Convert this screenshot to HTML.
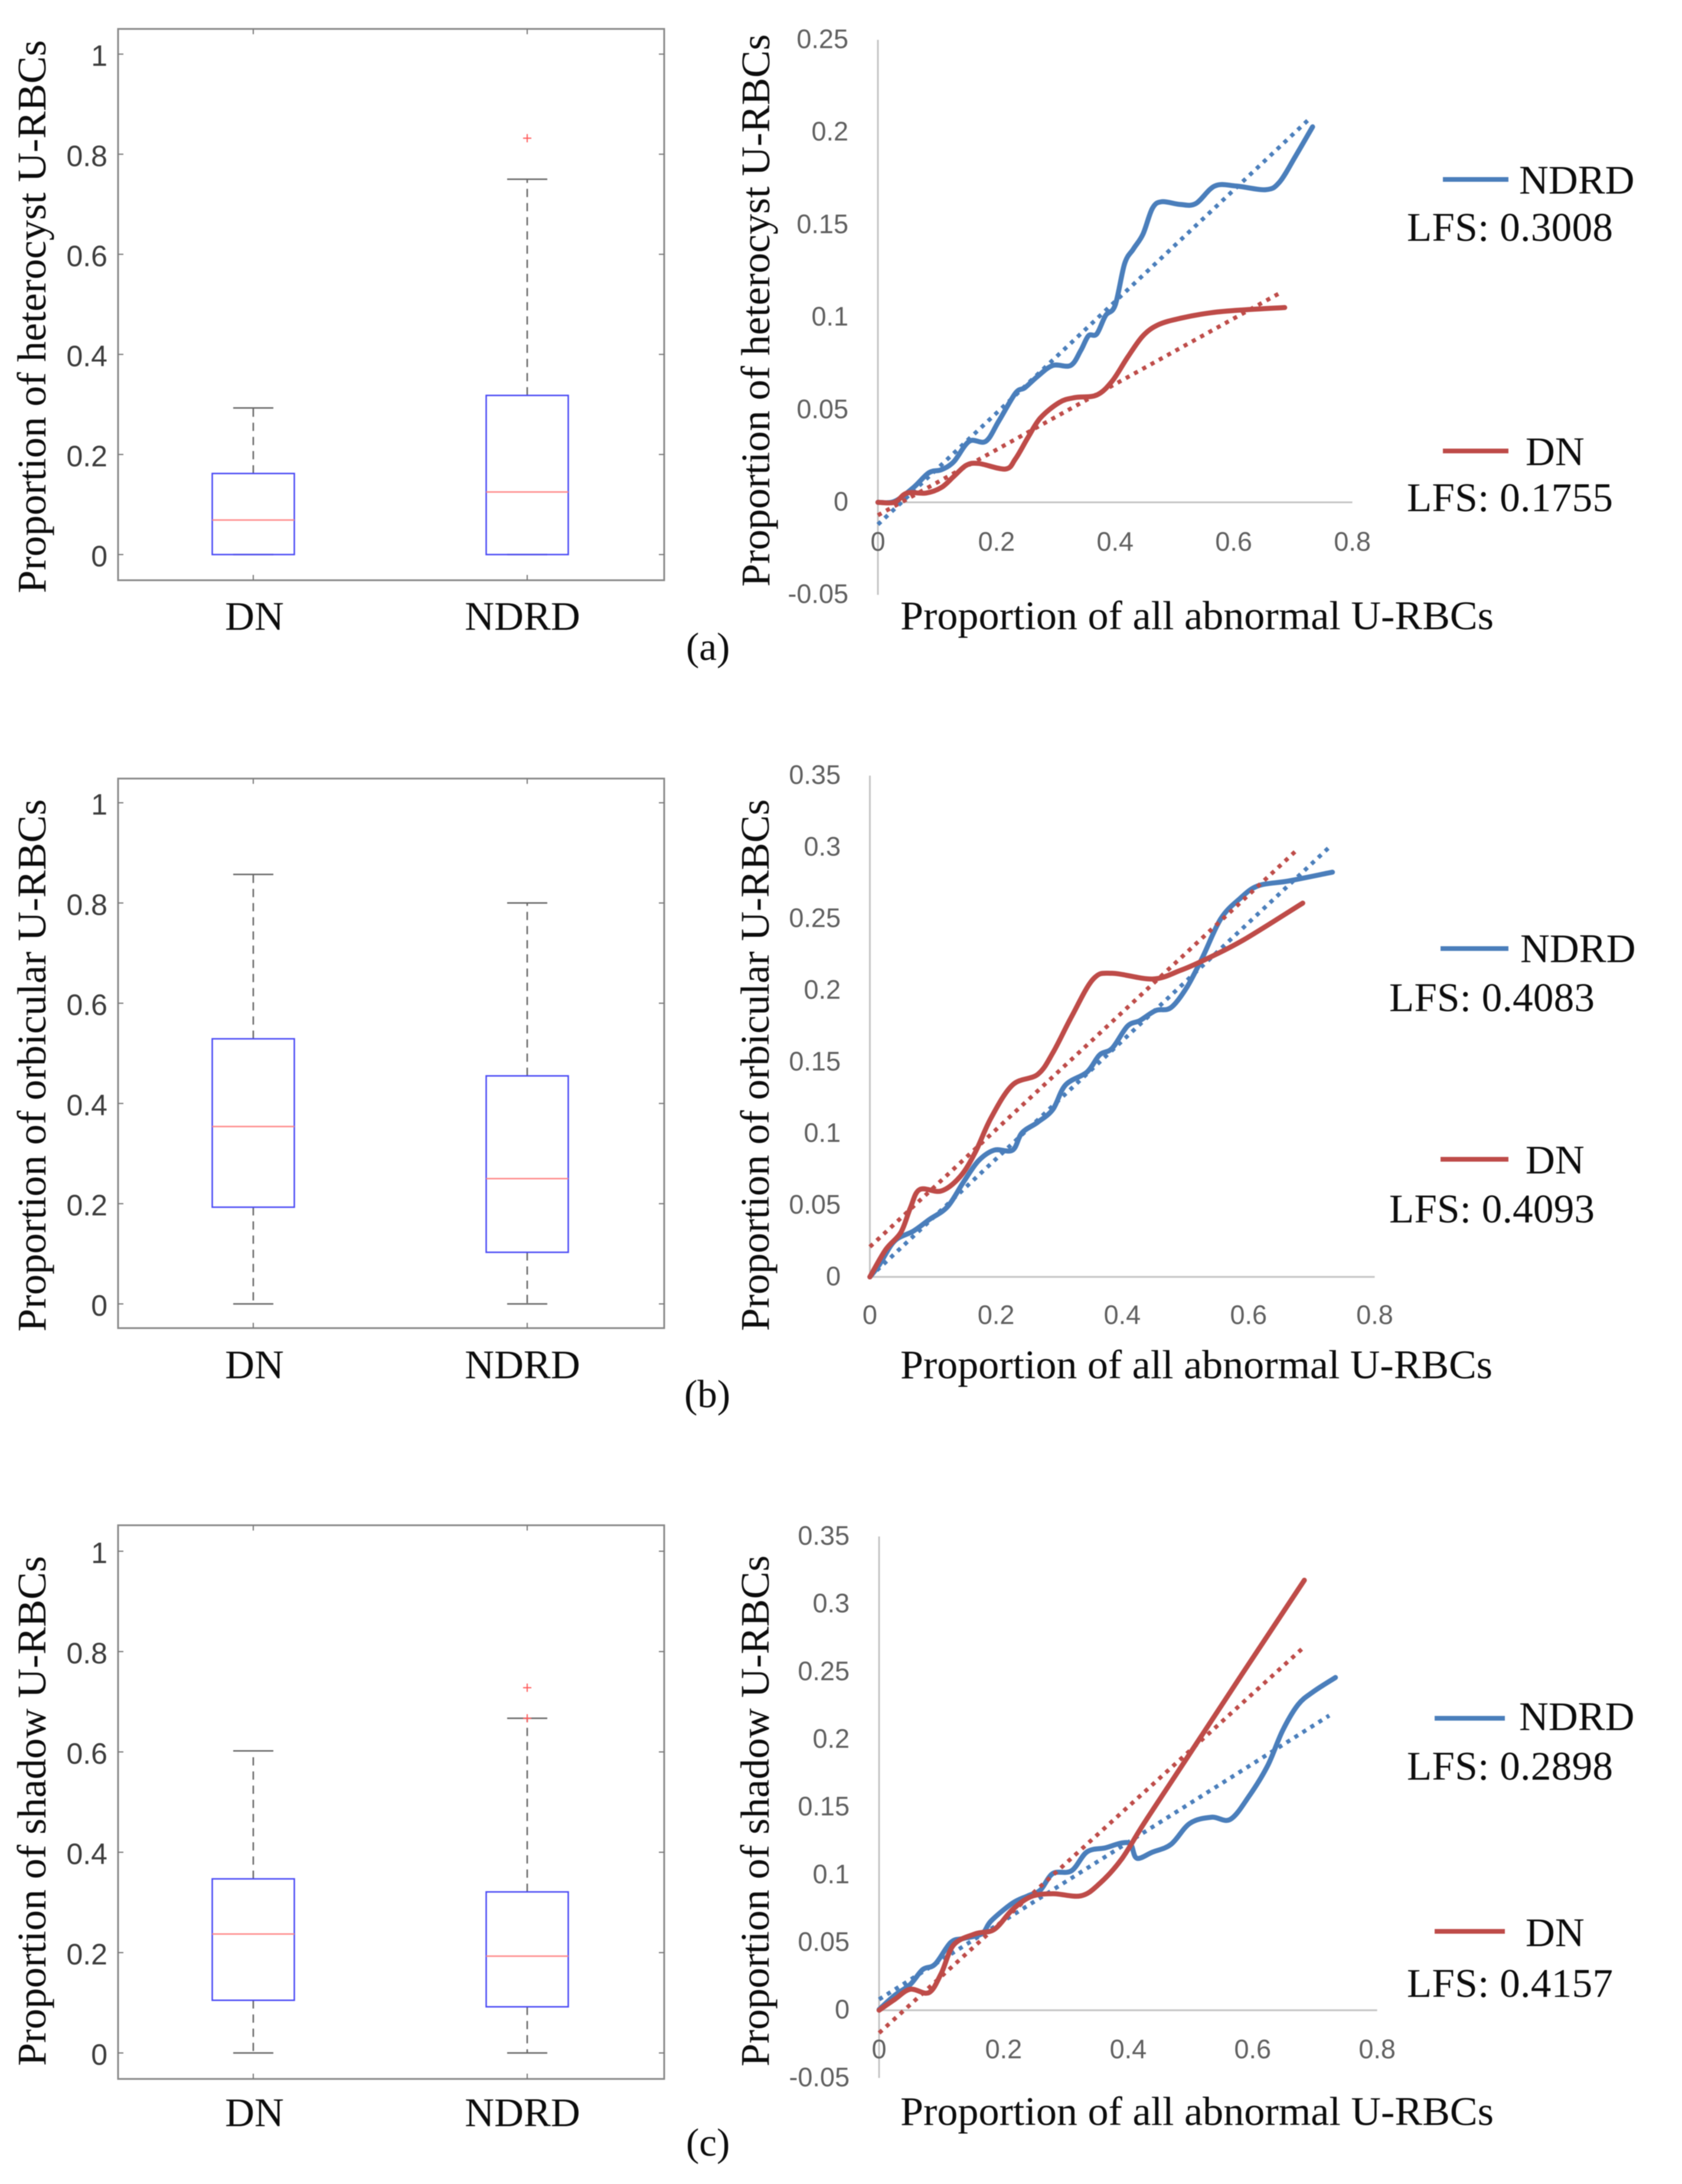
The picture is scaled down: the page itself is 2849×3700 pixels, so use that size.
<!DOCTYPE html>
<html lang="en">
<head>
<meta charset="utf-8">
<title>Proportions of U-RBC subtypes in DN and NDRD</title>
<style>
  html, body { margin: 0; padding: 0; background: #fff; }
  svg { display: block; filter: blur(0.9px); }
  .serif { font-family: "Liberation Serif", serif; font-size: 69px; fill: #0c0c0c; }
  .sans-box { font-family: "Liberation Sans", sans-serif; font-size: 50px; fill: #3c3c3c; }
  .sans-line { font-family: "Liberation Sans", sans-serif; font-size: 45px; fill: #5f5f5f; }
</style>
</head>
<body>
<svg id="figure" xmlns="http://www.w3.org/2000/svg" width="2849" height="3700" viewBox="0 0 2849 3700">
  <rect x="0" y="0" width="2849" height="3700" fill="#fff"/>

  <!-- Panel a text -->
  <text class="serif" transform="translate(77,1005) rotate(-90)" textLength="937" lengthAdjust="spacingAndGlyphs">Proportion of heterocyst U-RBCs</text>
  <text class="serif" x="431" y="1067" text-anchor="middle">DN</text>
  <text class="serif" x="885" y="1067" text-anchor="middle">NDRD</text>
  <text class="serif" x="1162" y="1118" style="font-size:67px">(a)</text>
  <text class="serif" transform="translate(1303,994) rotate(-90)" textLength="936" lengthAdjust="spacingAndGlyphs">Proportion of heterocyst U-RBCs</text>
  <text class="serif" x="1525" y="1066" textLength="1005" lengthAdjust="spacingAndGlyphs">Proportion of all abnormal U-RBCs</text>
  <line x1="2444" y1="304" x2="2555" y2="304" stroke="#4a7ebb" stroke-width="8"/>
  <text class="serif" x="2573" y="328">NDRD</text>
  <text class="serif" x="2383" y="408" textLength="349" lengthAdjust="spacing">LFS: 0.3008</text>
  <line x1="2444" y1="764" x2="2555" y2="764" stroke="#be4b48" stroke-width="8"/>
  <text class="serif" x="2584" y="788">DN</text>
  <text class="serif" x="2383" y="866" textLength="349" lengthAdjust="spacing">LFS: 0.1755</text>

  <!-- Panel b text -->
  <text class="serif" transform="translate(77,2256) rotate(-90)" textLength="902" lengthAdjust="spacingAndGlyphs">Proportion of orbicular U-RBCs</text>
  <text class="serif" x="431" y="2335" text-anchor="middle">DN</text>
  <text class="serif" x="885" y="2335" text-anchor="middle">NDRD</text>
  <text class="serif" x="1159" y="2384" style="font-size:67px">(b)</text>
  <text class="serif" transform="translate(1302,2255) rotate(-90)" textLength="901" lengthAdjust="spacingAndGlyphs">Proportion of orbicular U-RBCs</text>
  <text class="serif" x="1525" y="2335" textLength="1003" lengthAdjust="spacingAndGlyphs">Proportion of all abnormal U-RBCs</text>
  <line x1="2440" y1="1607" x2="2555" y2="1607" stroke="#4a7ebb" stroke-width="8"/>
  <text class="serif" x="2575" y="1630">NDRD</text>
  <text class="serif" x="2353" y="1713" textLength="348" lengthAdjust="spacing">LFS: 0.4083</text>
  <line x1="2440" y1="1964" x2="2555" y2="1964" stroke="#be4b48" stroke-width="8"/>
  <text class="serif" x="2584" y="1988">DN</text>
  <text class="serif" x="2353" y="2071" textLength="348" lengthAdjust="spacing">LFS: 0.4093</text>

  <!-- Panel c text -->
  <text class="serif" transform="translate(77,3500) rotate(-90)" textLength="864" lengthAdjust="spacingAndGlyphs">Proportion of shadow U-RBCs</text>
  <text class="serif" x="431" y="3602" text-anchor="middle">DN</text>
  <text class="serif" x="885" y="3602" text-anchor="middle">NDRD</text>
  <text class="serif" x="1162" y="3652" style="font-size:67px">(c)</text>
  <text class="serif" transform="translate(1302,3501) rotate(-90)" textLength="866" lengthAdjust="spacingAndGlyphs">Proportion of shadow U-RBCs</text>
  <text class="serif" x="1525" y="3600" textLength="1005" lengthAdjust="spacingAndGlyphs">Proportion of all abnormal U-RBCs</text>
  <line x1="2430" y1="2911" x2="2549" y2="2911" stroke="#4a7ebb" stroke-width="8"/>
  <text class="serif" x="2573" y="2931">NDRD</text>
  <text class="serif" x="2383" y="3015" textLength="349" lengthAdjust="spacing">LFS: 0.2898</text>
  <line x1="2430" y1="3272" x2="2549" y2="3272" stroke="#be4b48" stroke-width="8"/>
  <text class="serif" x="2584" y="3297">DN</text>
  <text class="serif" x="2383" y="3383" textLength="349" lengthAdjust="spacing">LFS: 0.4157</text>
</svg>

<script>
// ---------- Box plot data: [lower whisker, Q1, median, Q3, upper whisker] ----------
const boxTickValues = [0, 0.2, 0.4, 0.6, 0.8, 1];
const boxTickLabels = ['0', '0.2', '0.4', '0.6', '0.8', '1'];

const boxADn = [0, 0, 0.069, 0.162, 0.293];
const boxANdrd = [0, 0, 0.125, 0.318, 0.75];
const boxADnOutliers = [];
const boxANdrdOutliers = [0.832];

const boxBDn = [0, 0.193, 0.354, 0.529, 0.857];
const boxBNdrd = [0, 0.103, 0.25, 0.455, 0.8];
const boxBDnOutliers = [];
const boxBNdrdOutliers = [];

const boxCDn = [0, 0.105, 0.237, 0.347, 0.602];
const boxCNdrd = [0, 0.092, 0.193, 0.321, 0.667];
const boxCDnOutliers = [];
const boxCNdrdOutliers = [0.667, 0.728];

// ---------- Line chart axis ticks ----------
const lineXTickValues = [0, 0.2, 0.4, 0.6, 0.8];
const lineXTickLabels = ['0', '0.2', '0.4', '0.6', '0.8'];
const lineAYTickValues = [-0.05, 0, 0.05, 0.1, 0.15, 0.2, 0.25];
const lineAYTickLabels = ['-0.05', '0', '0.05', '0.1', '0.15', '0.2', '0.25'];
const lineBYTickValues = [0, 0.05, 0.1, 0.15, 0.2, 0.25, 0.3, 0.35];
const lineBYTickLabels = ['0', '0.05', '0.1', '0.15', '0.2', '0.25', '0.3', '0.35'];
const lineCYTickValues = [-0.05, 0, 0.05, 0.1, 0.15, 0.2, 0.25, 0.3, 0.35];
const lineCYTickLabels = ['-0.05', '0', '0.05', '0.1', '0.15', '0.2', '0.25', '0.3', '0.35'];

// ---------- Line chart series ----------
const lineANdrdX = [0, .028, .060, .086, .107, .128, .154, .182, .204, .232, .248, .269, .295, .325, .342, .355, .369, .384, .400, .416, .431, .447, .463, .479, .510, .536, .568, .604, .654, .677, .704, .733];
const lineANdrdY = [0, .0005, .008, .016, .0176, .022, .033, .033, .044, .059, .062, .068, .074, .074, .082, .090, .091, .101, .1065, .129, .137, .145, .159, .1625, .161, .1615, .171, .171, .169, .173, .187, .203];
const lineADnX = [0, .028, .049, .081, .107, .128, .149, .170, .215, .232, .253, .274, .306, .332, .369, .395, .421, .447, .473, .510, .562, .615, .686];
const lineADnY = [0, 0, .005, .005, .008, .014, .020, .021, .018, .0235, .035, .0456, .054, .0566, .058, .0655, .0784, .090, .096, .0995, .1025, .104, .1053];
const lineANdrdTrendX = [0, 0.73];
const lineANdrdTrendY = [-0.012, 0.208];
const lineADnTrendX = [0, 0.677];
const lineADnTrendY = [-0.007, 0.113];

const lineBNdrdX = [0, .015, .039, .069, .094, .123, .148, .172, .197, .226, .241, .266, .290, .310, .344, .364, .384, .408, .428, .453, .477, .502, .527, .556, .586, .615, .664, .733];
const lineBNdrdY = [0, .0085, .025, .032, .040, .049, .066, .081, .0885, .0885, .1006, .108, .117, .134, .143, .155, .1596, .175, .179, .186, .188, .202, .223, .250, .264, .273, .2765, .2826];
const lineBDnX = [0, .025, .049, .064, .079, .113, .143, .167, .192, .226, .266, .290, .320, .354, .384, .448, .492, .531, .591, .686];
const lineBDnY = [0, .019, .031, .048, .061, .060, .070, .087, .111, .134, .1414, .1565, .182, .208, .212, .208, .214, .2215, .235, .261];
const lineBNdrdTrendX = [0, 0.728];
const lineBNdrdTrendY = [0, 0.300];
const lineBDnTrendX = [0, 0.679];
const lineBDnTrendY = [0.021, 0.299];

const lineCNdrdX = [0, .025, .050, .070, .090, .115, .135, .165, .180, .214, .239, .259, .279, .309, .334, .364, .389, .404, .414, .439, .469, .499, .534, .564, .594, .624, .648, .673, .698, .733];
const lineCNdrdY = [.0005, .011, .019, .030, .034, .050, .053, .0565, .066, .079, .0845, .0887, .101, .103, .117, .120, .1235, .1226, .1123, .1168, .1226, .138, .1426, .141, .158, .1806, .2065, .2258, .2355, .2458];
const lineCDnX = [0, .025, .050, .080, .100, .120, .155, .185, .214, .244, .279, .324, .354, .389, .424, .474, .524, .584, .633, .683];
const lineCDnY = [0, .008, .0155, .013, .0274, .0484, .0565, .0597, .0742, .0839, .0861, .0845, .0935, .1113, .137, .172, .207, .249, .283, .3177];
const lineCNdrdTrendX = [0, 0.723];
const lineCNdrdTrendY = [0.008, 0.2177];
const lineCDnTrendX = [0, 0.681];
const lineCDnTrendY = [-0.0168, 0.2677];

// ---------- Rendering ----------
const SVG_NS = 'http://www.w3.org/2000/svg';
const figure = document.getElementById('figure');
const BLUE = '#4a7ebb';
const RED = '#be4b48';

function scale(d0, d1, p0, p1) {
  return function (v) { return p0 + (v - d0) * (p1 - p0) / (d1 - d0); };
}

function make(tag, attrs, name) {
  const node = document.createElementNS(SVG_NS, tag);
  for (const key in attrs) node.setAttribute(key, attrs[key]);
  
  
  figure.appendChild(node);
  return node;
}

function line(x1, y1, x2, y2, stroke, width, name, dash) {
  const attrs = { x1: x1, y1: y1, x2: x2, y2: y2, stroke: stroke, 'stroke-width': width };
  if (dash) attrs['stroke-dasharray'] = dash;
  return make('line', attrs, name);
}

function label(x, y, text, cls, anchor, name) {
  const node = make('text', { x: x, y: y, class: cls, 'text-anchor': anchor }, name);
  node.textContent = text;
  return node;
}

function drawBoxPanel(id, geom, dnStats, ndrdStats, dnOutliers, ndrdOutliers) {
  const y = scale(0, 1, geom.zero, geom.one);
  const frameColor = '#8a8a8a';
  make('rect', { x: 200, y: geom.top, width: 925, height: geom.bottom - geom.top, fill: 'none', stroke: frameColor, 'stroke-width': 3 }, 'box-' + id + '-frame');
  boxTickValues.forEach(function (v, i) {
    line(200, y(v), 209, y(v), '#777', 2, 'box-' + id + '-tick-left');
    line(1116, y(v), 1125, y(v), '#777', 2, 'box-' + id + '-tick-right');
    label(182, y(v) + 20, boxTickLabels[i], 'sans-box', 'end', 'box-' + id + '-y-tick-label');
  });
  [[429, dnStats, dnOutliers, 'dn'], [893, ndrdStats, ndrdOutliers, 'ndrd']].forEach(function (series) {
    const cx = series[0], s = series[1], out = series[2], key = 'box-' + id + '-' + series[3];
    line(cx, geom.top, cx, geom.top + 9, '#777', 2, key + '-tick-top');
    line(cx, geom.bottom - 9, cx, geom.bottom, '#777', 2, key + '-tick-bottom');
    if (s[1] > s[0]) line(cx, y(s[1]), cx, y(s[0]), '#666', 2.5, key + '-lower-whisker', '14 10');
    line(cx, y(s[3]), cx, y(s[4]), '#666', 2.5, key + '-upper-whisker', '14 10');
    line(cx - 34, y(s[0]), cx + 34, y(s[0]), '#666', 2.5, key + '-lower-cap');
    line(cx - 34, y(s[4]), cx + 34, y(s[4]), '#666', 2.5, key + '-upper-cap');
    make('rect', { x: cx - 69.5, y: y(s[3]), width: 139, height: y(s[1]) - y(s[3]), fill: 'none', stroke: '#4a4af5', 'stroke-width': 2.5 }, key + '-box');
    line(cx - 69.5, y(s[2]), cx + 69.5, y(s[2]), '#ff8a8a', 2.5, key + '-median');
    out.forEach(function (v) {
      line(cx - 7, y(v), cx + 7, y(v), '#ff5a5a', 2, key + '-outlier-h');
      line(cx, y(v) - 7, cx, y(v) + 7, '#ff5a5a', 2, key + '-outlier-v');
    });
  });
}

function smoothPath(xs, ys, fx, fy) {
  const px = xs.map(fx), py = ys.map(fy);
  let d = 'M' + px[0].toFixed(1) + ' ' + py[0].toFixed(1);
  for (let i = 0; i < px.length - 1; i++) {
    const i0 = Math.max(i - 1, 0), i3 = Math.min(i + 2, px.length - 1);
    const c1x = px[i] + (px[i + 1] - px[i0]) / 6, c1y = py[i] + (py[i + 1] - py[i0]) / 6;
    const c2x = px[i + 1] - (px[i3] - px[i]) / 6, c2y = py[i + 1] - (py[i3] - py[i]) / 6;
    d += 'C' + c1x.toFixed(1) + ' ' + c1y.toFixed(1) + ' ' + c2x.toFixed(1) + ' ' + c2y.toFixed(1) + ' ' + px[i + 1].toFixed(1) + ' ' + py[i + 1].toFixed(1);
  }
  return d;
}

function drawLinePanel(id, geom, yTicks, yLabels, series) {
  const x = scale(0, 0.8, geom.x0, geom.x8);
  const y = scale(geom.yDomain[0], geom.yDomain[1], geom.yPix[0], geom.yPix[1]);
  const axisColor = '#c4c4c4';
  line(geom.x0, y(yTicks[yTicks.length - 1]), geom.x0, y(yTicks[0]), axisColor, 3, 'line-' + id + '-y-axis');
  line(geom.x0, y(0), geom.x8, y(0), axisColor, 3, 'line-' + id + '-x-axis');
  yTicks.forEach(function (v, i) {
    label(geom.labelRight, y(v) + 14, yLabels[i], 'sans-line', 'end', 'line-' + id + '-y-tick-label');
  });
  lineXTickValues.forEach(function (v, i) {
    label(x(v), geom.xLabelY, lineXTickLabels[i], 'sans-line', 'middle', 'line-' + id + '-x-tick-label');
  });
  series.forEach(function (s) {
    const key = 'line-' + id + '-' + s.key;
    make('line', { x1: x(s.tx[0]), y1: y(s.ty[0]), x2: x(s.tx[1]), y2: y(s.ty[1]), stroke: s.color, 'stroke-width': 7, 'stroke-dasharray': '7 9' }, key + '-trend');
    make('path', { d: smoothPath(s.xs, s.ys, x, y), fill: 'none', stroke: s.color, 'stroke-width': 8.5, 'stroke-linejoin': 'round', 'stroke-linecap': 'round' }, key + '-series');
  });
}

drawBoxPanel('a', { top: 49, bottom: 983, zero: 939.5, one: 91.7 }, boxADn, boxANdrd, boxADnOutliers, boxANdrdOutliers);
drawBoxPanel('b', { top: 1319, bottom: 2250, zero: 2209, one: 1360 }, boxBDn, boxBNdrd, boxBDnOutliers, boxBNdrdOutliers);
drawBoxPanel('c', { top: 2584, bottom: 3522, zero: 3478, one: 2628 }, boxCDn, boxCNdrd, boxCDnOutliers, boxCNdrdOutliers);

drawLinePanel('a', { x0: 1487, x8: 2290.6, yDomain: [0, 0.25], yPix: [851, 67.5], labelRight: 1437, xLabelY: 933 }, lineAYTickValues, lineAYTickLabels, [
  { key: 'ndrd', color: BLUE, xs: lineANdrdX, ys: lineANdrdY, tx: lineANdrdTrendX, ty: lineANdrdTrendY },
  { key: 'dn', color: RED, xs: lineADnX, ys: lineADnY, tx: lineADnTrendX, ty: lineADnTrendY }
]);
drawLinePanel('b', { x0: 1473.4, x8: 2328.5, yDomain: [0, 0.35], yPix: [2163.3, 1314], labelRight: 1424, xLabelY: 2243 }, lineBYTickValues, lineBYTickLabels, [
  { key: 'ndrd', color: BLUE, xs: lineBNdrdX, ys: lineBNdrdY, tx: lineBNdrdTrendX, ty: lineBNdrdTrendY },
  { key: 'dn', color: RED, xs: lineBDnX, ys: lineBDnY, tx: lineBDnTrendX, ty: lineBDnTrendY }
]);
drawLinePanel('c', { x0: 1489, x8: 2332.7, yDomain: [0, 0.35], yPix: [3405.6, 2603], labelRight: 1439, xLabelY: 3487 }, lineCYTickValues, lineCYTickLabels, [
  { key: 'ndrd', color: BLUE, xs: lineCNdrdX, ys: lineCNdrdY, tx: lineCNdrdTrendX, ty: lineCNdrdTrendY },
  { key: 'dn', color: RED, xs: lineCDnX, ys: lineCDnY, tx: lineCDnTrendX, ty: lineCDnTrendY }
]);
</script>
</body>
</html>
